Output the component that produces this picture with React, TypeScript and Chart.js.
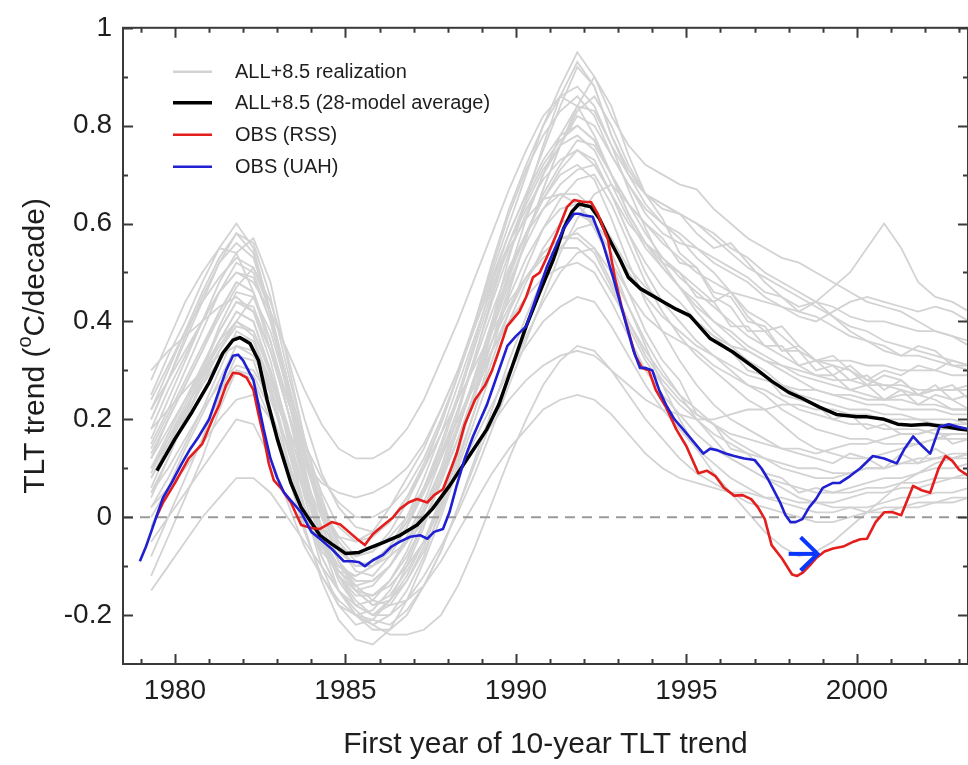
import React, { useEffect, useRef } from "react";
import { Chart, registerables } from "chart.js";

Chart.register(...registerables);

const FONT = "'Liberation Sans', Arial, Helvetica, sans-serif";

// Axis ranges and ticks
const X_MIN = 1978.475;
const X_MAX = 2003.26;
const Y_MIN = -0.3;
const Y_MAX = 1.0;
const X_MAJOR_TICKS = [1980, 1985, 1990, 1995, 2000];
const X_MINOR_TICKS = [1979, 1981, 1982, 1983, 1984, 1986, 1987, 1988, 1989, 1991, 1992, 1993, 1994, 1996, 1997, 1998, 1999, 2001, 2002, 2003];
const Y_MAJOR_TICKS = [-0.2, 0, 0.2, 0.4, 0.6, 0.8, 1];
const Y_MINOR_TICKS = [-0.1, 0.1, 0.3, 0.5, 0.7, 0.9];

const X_TITLE = "First year of 10-year TLT trend";
const Y_TITLE_PARTS = ["TLT trend (", "o", "C/decade)"]; // middle part is a superscript
const LEGEND_LABELS = ["ALL+8.5 realization", "ALL+8.5 (28-model average)", "OBS (RSS)", "OBS (UAH)"];

// Sample years for the model realizations
const GRAY_YEARS = [
  1979.3, 1979.8, 1980.3, 1980.8, 1981.3, 1981.8, 1982.3, 1982.8, 1983.3, 1983.8,
  1984.3, 1984.8, 1985.3, 1985.8, 1986.3, 1986.8, 1987.3, 1987.8, 1988.3, 1988.8,
  1989.3, 1989.8, 1990.3, 1990.8, 1991.3, 1991.8, 1992.3, 1992.8, 1993.3, 1993.8,
  1994.3, 1994.8, 1995.3, 1995.8, 1996.3, 1996.8, 1997.3, 1997.8, 1998.3, 1998.8,
  1999.3, 1999.8, 2000.3, 2000.8, 2001.3, 2001.8, 2002.3, 2002.8, 2003.3,
];

const G01 = [0.25,0.33,0.40,0.48,0.55,0.60,0.55,0.42,0.28,0.15, 0.05,-0.02,-0.05,-0.03,0.02,0.08,0.14,0.22,0.30,0.40, 0.50,0.60,0.70,0.80,0.88,0.95,0.90,0.82,0.76,0.72, 0.70,0.68,0.67,0.63,0.60,0.57,0.55,0.53,0.52,0.50, 0.48,0.46,0.44,0.43,0.42,0.40,0.38,0.37,0.35];
const G02 = [0.20,0.28,0.36,0.44,0.52,0.58,0.56,0.45,0.30,0.16, 0.04,-0.06,-0.11,-0.12,-0.08,-0.02,0.06,0.15,0.25,0.36, 0.48,0.58,0.66,0.75,0.84,0.92,0.88,0.78,0.70,0.64, 0.60,0.57,0.53,0.50,0.46,0.42,0.40,0.37,0.34,0.32, 0.31,0.30,0.28,0.27,0.26,0.25,0.24,0.22,0.22];
const G03 = [0.15,0.22,0.30,0.38,0.46,0.52,0.50,0.40,0.26,0.10, -0.03,-0.12,-0.18,-0.20,-0.17,-0.12,-0.05,0.04,0.14,0.25, 0.36,0.47,0.57,0.67,0.76,0.83,0.86,0.80,0.72,0.66, 0.63,0.62,0.58,0.55,0.56,0.52,0.48,0.45,0.43,0.44, 0.41,0.38,0.36,0.34,0.33,0.35,0.34,0.31,0.30];
const G04 = [0.12,0.20,0.27,0.34,0.42,0.48,0.46,0.36,0.22,0.08, -0.04,-0.11,-0.15,-0.14,-0.10,-0.04,0.03,0.12,0.22,0.33, 0.44,0.54,0.62,0.70,0.76,0.82,0.80,0.74,0.68,0.62, 0.58,0.56,0.55,0.52,0.50,0.48,0.45,0.43,0.41,0.40, 0.42,0.44,0.45,0.44,0.43,0.42,0.43,0.42,0.40];
const G05 = [0.10,0.17,0.24,0.31,0.38,0.44,0.43,0.34,0.22,0.09, -0.02,-0.09,-0.13,-0.13,-0.10,-0.05,0.02,0.10,0.19,0.29, 0.39,0.49,0.58,0.66,0.72,0.77,0.76,0.70,0.64,0.60, 0.56,0.53,0.50,0.48,0.46,0.45,0.44,0.43,0.42,0.44, 0.47,0.50,0.55,0.60,0.55,0.48,0.45,0.44,0.42];
const G06 = [0.05,0.12,0.20,0.28,0.36,0.42,0.40,0.30,0.16,0.02, -0.10,-0.18,-0.22,-0.21,-0.17,-0.10,-0.02,0.08,0.18,0.29, 0.40,0.50,0.58,0.65,0.71,0.75,0.73,0.66,0.58,0.52, 0.47,0.44,0.40,0.37,0.34,0.30,0.29,0.25,0.24,0.23, 0.20,0.21,0.18,0.19,0.17,0.17,0.18,0.15,0.16];
const G07 = [0.08,0.14,0.20,0.27,0.34,0.40,0.45,0.38,0.26,0.12, 0.00,-0.09,-0.15,-0.18,-0.16,-0.11,-0.05,0.03,0.12,0.22, 0.32,0.42,0.51,0.59,0.65,0.69,0.70,0.64,0.56,0.48, 0.42,0.37,0.33,0.30,0.27,0.24,0.22,0.19,0.16,0.14, 0.13,0.12,0.12,0.13,0.14,0.15,0.16,0.17,0.17];
const G08 = [0.02,0.08,0.15,0.22,0.30,0.38,0.36,0.26,0.12,-0.02, -0.13,-0.21,-0.25,-0.26,-0.23,-0.17,-0.09,0.00,0.10,0.20, 0.30,0.40,0.48,0.55,0.60,0.62,0.60,0.54,0.46,0.38, 0.32,0.28,0.21,0.19,0.14,0.13,0.09,0.08,0.05,0.06, 0.05,0.06,0.07,0.08,0.08,0.09,0.10,0.10,0.11];
const G09 = [-0.05,0.00,0.05,0.10,0.15,0.20,0.19,0.12,0.03,-0.06, -0.12,-0.17,-0.20,-0.21,-0.22,-0.19,-0.14,-0.07,0.02,0.11, 0.20,0.29,0.37,0.44,0.50,0.54,0.55,0.50,0.43,0.36, 0.30,0.25,0.20,0.16,0.12,0.10,0.08,0.06,0.04,0.03, 0.03,0.04,0.05,0.05,0.06,0.06,0.07,0.08,0.08];
const G10 = [-0.15,-0.10,-0.05,0.00,0.04,0.08,0.08,0.05,0.00,-0.05, -0.10,-0.15,-0.19,-0.22,-0.24,-0.24,-0.23,-0.20,-0.14,-0.06, 0.03,0.12,0.20,0.27,0.32,0.35,0.34,0.30,0.25,0.20, 0.16,0.12,0.09,0.07,0.05,0.03,0.02,0.01,0.00,-0.01, -0.01,0.00,0.01,0.02,0.02,0.03,0.03,0.04,0.04];
const G11 = [-0.12,-0.04,0.04,0.12,0.22,0.30,0.28,0.20,0.10,0.00, -0.06,-0.10,-0.12,-0.10,-0.06,-0.01,0.05,0.12,0.20,0.28, 0.36,0.43,0.49,0.54,0.57,0.58,0.55,0.48,0.40,0.33, 0.28,0.24,0.21,0.19,0.17,0.16,0.15,0.14,0.14,0.13, 0.14,0.15,0.15,0.16,0.17,0.17,0.18,0.18,0.18];
const G12 = [0.22,0.28,0.34,0.40,0.46,0.50,0.48,0.42,0.34,0.26, 0.19,0.14,0.12,0.12,0.14,0.18,0.24,0.32,0.40,0.49, 0.58,0.67,0.75,0.82,0.86,0.84,0.78,0.70,0.64,0.60, 0.57,0.52,0.51,0.46,0.45,0.40,0.39,0.34,0.34,0.30, 0.31,0.28,0.29,0.26,0.28,0.25,0.27,0.24,0.25];
const G13 = [0.18,0.22,0.26,0.30,0.33,0.35,0.33,0.26,0.18,0.11, 0.07,0.05,0.04,0.05,0.07,0.10,0.15,0.22,0.30,0.39, 0.48,0.56,0.63,0.69,0.73,0.75,0.72,0.66,0.60,0.56, 0.53,0.50,0.47,0.44,0.46,0.41,0.38,0.39,0.35,0.32, 0.33,0.30,0.27,0.29,0.28,0.25,0.26,0.27,0.24];
const G14 = [0.28,0.36,0.44,0.50,0.55,0.54,0.46,0.34,0.22,0.11, 0.02,-0.04,-0.08,-0.07,-0.03,0.03,0.10,0.19,0.29,0.40, 0.52,0.63,0.72,0.80,0.86,0.88,0.84,0.76,0.70,0.66, 0.64,0.62,0.60,0.57,0.54,0.51,0.49,0.47,0.45,0.43, 0.41,0.39,0.38,0.36,0.35,0.34,0.33,0.32,0.31];
const G15 = [0.06,0.14,0.22,0.29,0.36,0.42,0.40,0.30,0.18,0.08, 0.00,-0.04,-0.05,-0.04,-0.01,0.04,0.10,0.17,0.24,0.31, 0.38,0.44,0.49,0.53,0.55,0.55,0.52,0.46,0.40,0.34, 0.29,0.25,0.22,0.19,0.16,0.14,0.12,0.10,0.09,0.08, 0.08,0.09,0.10,0.10,0.11,0.12,0.12,0.13,0.13];
const G16 = [0.00,0.06,0.12,0.18,0.24,0.30,0.29,0.22,0.12,0.02, -0.06,-0.12,-0.15,-0.16,-0.14,-0.10,-0.05,0.02,0.09,0.16, 0.23,0.30,0.35,0.40,0.43,0.45,0.44,0.39,0.33,0.27, 0.22,0.18,0.14,0.11,0.08,0.06,0.04,0.03,0.02,0.01, 0.01,0.02,0.02,0.03,0.04,0.04,0.05,0.05,0.06];
const G17 = [0.14,0.21,0.28,0.35,0.42,0.48,0.46,0.36,0.24,0.13, 0.03,-0.05,-0.09,-0.10,-0.08,-0.05,-0.01,0.04,0.09,0.14, 0.19,0.24,0.28,0.31,0.33,0.34,0.33,0.30,0.27,0.24, 0.22,0.21,0.20,0.20,0.21,0.22,0.22,0.23,0.23,0.22, 0.22,0.21,0.21,0.20,0.20,0.20,0.19,0.19,0.19];
const G18 = [0.10,0.16,0.22,0.28,0.34,0.39,0.38,0.30,0.19,0.07, -0.04,-0.12,-0.17,-0.20,-0.20,-0.17,-0.12,-0.06,0.01,0.09, 0.18,0.27,0.36,0.45,0.54,0.61,0.66,0.68,0.64,0.58, 0.53,0.49,0.46,0.43,0.40,0.37,0.35,0.33,0.31,0.29, 0.29,0.26,0.27,0.24,0.26,0.23,0.25,0.24,0.22];
const G19 = [0.02,0.06,0.10,0.15,0.20,0.24,0.25,0.20,0.11,0.01, -0.08,-0.15,-0.20,-0.23,-0.23,-0.20,-0.14,-0.07,0.02,0.12, 0.22,0.32,0.41,0.49,0.55,0.59,0.60,0.56,0.50,0.45, 0.41,0.38,0.35,0.33,0.31,0.29,0.28,0.27,0.26,0.26, 0.25,0.25,0.24,0.24,0.25,0.25,0.26,0.26,0.27];
const G20 = [0.30,0.34,0.37,0.40,0.43,0.45,0.42,0.34,0.24,0.15, 0.08,0.03,0.00,0.00,0.02,0.06,0.12,0.20,0.29,0.39, 0.49,0.58,0.66,0.73,0.78,0.80,0.77,0.70,0.62,0.56, 0.52,0.50,0.45,0.44,0.39,0.39,0.35,0.35,0.31,0.32, 0.29,0.31,0.28,0.30,0.29,0.31,0.30,0.32,0.31];
const G21 = [-0.02,0.06,0.14,0.21,0.28,0.35,0.34,0.25,0.14,0.05, -0.02,-0.06,-0.08,-0.07,-0.04,0.00,0.06,0.13,0.20,0.27, 0.34,0.40,0.45,0.49,0.51,0.52,0.50,0.44,0.37,0.30, 0.25,0.21,0.17,0.14,0.12,0.10,0.08,0.07,0.06,0.05, 0.05,0.05,0.06,0.06,0.07,0.07,0.08,0.08,0.09];
const G22 = [0.16,0.24,0.32,0.40,0.48,0.54,0.57,0.48,0.32,0.16, 0.02,-0.09,-0.15,-0.18,-0.17,-0.13,-0.07,0.01,0.11,0.22, 0.34,0.46,0.57,0.67,0.76,0.84,0.90,0.84,0.74,0.66, 0.61,0.54,0.51,0.45,0.43,0.38,0.38,0.34,0.35,0.32, 0.32,0.32,0.31,0.31,0.30,0.30,0.30,0.29,0.29];
const G23 = [0.12,0.18,0.24,0.30,0.36,0.40,0.37,0.27,0.14,0.02, -0.07,-0.11,-0.12,-0.10,-0.06,0.00,0.08,0.17,0.27,0.37, 0.47,0.55,0.61,0.65,0.66,0.64,0.59,0.52,0.46,0.41, 0.38,0.36,0.34,0.31,0.29,0.27,0.26,0.24,0.22,0.21, 0.20,0.19,0.19,0.18,0.18,0.18,0.17,0.17,0.17];
const G24 = [-0.08,0.00,0.08,0.16,0.25,0.33,0.32,0.22,0.09,-0.03, -0.12,-0.18,-0.20,-0.19,-0.15,-0.09,-0.01,0.08,0.18,0.29, 0.40,0.50,0.58,0.65,0.70,0.72,0.69,0.61,0.52,0.44, 0.38,0.32,0.27,0.23,0.20,0.18,0.16,0.14,0.13,0.12, 0.11,0.13,0.12,0.10,0.13,0.11,0.14,0.12,0.13];
const G25 = [0.05,0.10,0.16,0.22,0.27,0.31,0.30,0.24,0.15,0.06, -0.02,-0.09,-0.14,-0.17,-0.18,-0.17,-0.14,-0.09,-0.03,0.03, 0.09,0.14,0.18,0.22,0.24,0.25,0.24,0.21,0.17,0.13, 0.10,0.08,0.07,0.06,0.05,0.05,0.04,0.04,0.03,0.03, 0.02,0.02,0.01,0.01,0.02,0.02,0.03,0.03,0.04];
const G26 = [0.08,0.15,0.22,0.29,0.35,0.40,0.38,0.29,0.17,0.05, -0.05,-0.12,-0.16,-0.16,-0.13,-0.08,-0.01,0.07,0.16,0.26, 0.36,0.45,0.53,0.59,0.63,0.64,0.60,0.52,0.43,0.35, 0.27,0.20,0.14,0.09,0.05,0.01,-0.03,-0.06,-0.08,-0.07, -0.05,-0.02,0.01,0.04,0.07,0.09,0.11,0.12,0.13];
const G27 = [0.18,0.26,0.33,0.40,0.46,0.50,0.49,0.40,0.27,0.13, 0.01,-0.07,-0.10,-0.09,-0.06,-0.01,0.06,0.14,0.24,0.35, 0.46,0.56,0.64,0.71,0.76,0.78,0.75,0.68,0.61,0.55, 0.51,0.47,0.44,0.40,0.38,0.35,0.33,0.31,0.29,0.28, 0.27,0.26,0.25,0.24,0.24,0.23,0.23,0.22,0.22];
const G28 = [0.20,0.28,0.37,0.45,0.52,0.56,0.53,0.42,0.26,0.10, -0.04,-0.13,-0.18,-0.20,-0.18,-0.13,-0.06,0.03,0.14,0.26, 0.38,0.50,0.61,0.70,0.78,0.84,0.83,0.76,0.67,0.59, 0.52,0.47,0.42,0.38,0.35,0.32,0.30,0.27,0.25,0.24, 0.23,0.22,0.22,0.21,0.21,0.20,0.20,0.20,0.19];
const G29 = [0.22,0.30,0.38,0.46,0.53,0.58,0.54,0.41,0.25,0.09, -0.05,-0.15,-0.20,-0.22,-0.20,-0.15,-0.08,0.02,0.13,0.26, 0.40,0.53,0.65,0.76,0.86,0.93,0.88,0.78,0.71,0.66, 0.64,0.62,0.60,0.58,0.55,0.53,0.50,0.48,0.46,0.44, 0.43,0.41,0.40,0.40,0.39,0.38,0.38,0.37,0.36];
const G30 = [0.24,0.31,0.38,0.44,0.49,0.53,0.51,0.44,0.33,0.20, 0.09,0.02,-0.02,-0.03,-0.01,0.04,0.11,0.19,0.29,0.40, 0.51,0.62,0.71,0.78,0.83,0.86,0.82,0.74,0.68,0.63, 0.60,0.58,0.55,0.53,0.51,0.49,0.46,0.45,0.42,0.41, 0.39,0.37,0.36,0.35,0.33,0.33,0.32,0.31,0.31];
const G31 = [0.04,0.12,0.21,0.30,0.39,0.46,0.45,0.36,0.22,0.07, -0.05,-0.11,-0.14,-0.13,-0.10,-0.05,0.01,0.09,0.18,0.28, 0.38,0.48,0.56,0.63,0.68,0.71,0.72,0.66,0.58,0.50, 0.44,0.40,0.36,0.33,0.30,0.27,0.25,0.22,0.20,0.18, 0.17,0.16,0.16,0.15,0.15,0.15,0.16,0.16,0.16];
const G32 = [0.09,0.16,0.23,0.30,0.38,0.44,0.42,0.32,0.18,0.04, -0.08,-0.15,-0.18,-0.17,-0.13,-0.07,0.01,0.10,0.21,0.33, 0.45,0.56,0.65,0.72,0.77,0.80,0.77,0.70,0.62,0.56, 0.51,0.47,0.43,0.40,0.37,0.34,0.32,0.30,0.28,0.26, 0.25,0.24,0.23,0.23,0.22,0.22,0.22,0.21,0.21];
const G33 = [0.13,0.20,0.27,0.34,0.41,0.47,0.51,0.42,0.28,0.14, 0.02,-0.06,-0.10,-0.10,-0.07,-0.02,0.05,0.13,0.22,0.32, 0.42,0.51,0.58,0.63,0.66,0.66,0.63,0.57,0.51,0.47, 0.44,0.42,0.40,0.37,0.35,0.34,0.32,0.31,0.30,0.29, 0.28,0.28,0.27,0.27,0.27,0.26,0.26,0.26,0.26];
const G34 = [0.10,0.15,0.21,0.27,0.32,0.37,0.36,0.28,0.17,0.06, -0.04,-0.10,-0.13,-0.13,-0.10,-0.05,0.01,0.08,0.16,0.25, 0.34,0.42,0.49,0.54,0.57,0.57,0.54,0.47,0.39,0.32, 0.27,0.23,0.20,0.17,0.15,0.13,0.12,0.11,0.10,0.10, 0.09,0.09,0.10,0.10,0.11,0.11,0.12,0.12,0.12];

const GRAY_REALIZATIONS = [G01, G02, G03, G04, G05, G06, G07, G08, G09, G10, G11, G12, G13, G14, G15, G16, G17, G18, G19, G20, G21, G22, G23, G24, G25, G26, G27, G28, G29, G30, G31, G32, G33, G34];

// 28-model average
const AVG_YEARS = [1979.47, 1980.0, 1980.5, 1981.0, 1981.4, 1981.7, 1981.9, 1982.2, 1982.45, 1982.7, 1983.0, 1983.4, 1983.7, 1984.25, 1984.6, 1985.0, 1985.4, 1985.6, 1986.1, 1986.6, 1987.1, 1987.55, 1988.05, 1988.55, 1989.15, 1989.5, 1989.9, 1990.3, 1990.7, 1991.1, 1991.4, 1991.65, 1991.85, 1992.2, 1992.45, 1992.7, 1993.05, 1993.3, 1993.65, 1994.2, 1994.7, 1995.1, 1995.7, 1996.35, 1997.0, 1997.5, 1998.0, 1998.33, 1998.9, 1999.4, 2000.0, 2000.3, 2000.8, 2001.2, 2001.6, 2002.05, 2002.6, 2003.0, 2003.26];
const AVG_VALUES = [0.095, 0.16, 0.215, 0.275, 0.335, 0.362, 0.367, 0.355, 0.32, 0.24, 0.16, 0.07, 0.02, -0.037, -0.055, -0.074, -0.072, -0.066, -0.052, -0.037, -0.016, 0.017, 0.064, 0.117, 0.18, 0.23, 0.31, 0.39, 0.46, 0.527, 0.59, 0.625, 0.64, 0.634, 0.61, 0.573, 0.527, 0.49, 0.467, 0.445, 0.425, 0.412, 0.365, 0.338, 0.305, 0.278, 0.255, 0.245, 0.225, 0.21, 0.205, 0.205, 0.2, 0.19, 0.188, 0.19, 0.185, 0.18, 0.178];

// RSS observations
const RSS_YEARS = [1979.45, 1979.65, 1980.0, 1980.4, 1980.8, 1981.1, 1981.3, 1981.5, 1981.7, 1981.9, 1982.1, 1982.3, 1982.45, 1982.6, 1982.75, 1982.9, 1983.1, 1983.4, 1983.7, 1984.0, 1984.25, 1984.6, 1984.85, 1985.1, 1985.35, 1985.57, 1985.8, 1986.1, 1986.4, 1986.6, 1986.85, 1987.1, 1987.4, 1987.6, 1987.86, 1988.1, 1988.26, 1988.5, 1988.8, 1989.1, 1989.3, 1989.5, 1989.74, 1990.1, 1990.3, 1990.5, 1990.7, 1990.9, 1991.2, 1991.5, 1991.7, 1992.0, 1992.2, 1992.4, 1992.7, 1992.9, 1993.1, 1993.3, 1993.5, 1993.7, 1993.9, 1994.1, 1994.4, 1994.7, 1995.0, 1995.35, 1995.6, 1995.85, 1996.1, 1996.4, 1996.65, 1996.9, 1997.1, 1997.3, 1997.5, 1997.8, 1998.1, 1998.25, 1998.4, 1998.6, 1998.8, 1999.05, 1999.3, 1999.6, 1999.9, 2000.1, 2000.3, 2000.55, 2000.8, 2001.05, 2001.3, 2001.65, 2001.9, 2002.15, 2002.4, 2002.6, 2002.8, 2003.0, 2003.26];
const RSS_VALUES = [0.0, 0.03, 0.07, 0.12, 0.15, 0.2, 0.23, 0.27, 0.295, 0.293, 0.285, 0.26, 0.21, 0.165, 0.11, 0.075, 0.06, 0.03, -0.016, -0.022, -0.024, -0.01, -0.015, -0.03, -0.045, -0.057, -0.035, -0.017, 0.0, 0.017, 0.03, 0.037, 0.03, 0.045, 0.057, 0.1, 0.13, 0.19, 0.24, 0.27, 0.3, 0.34, 0.39, 0.42, 0.45, 0.49, 0.5, 0.53, 0.58, 0.634, 0.648, 0.644, 0.644, 0.62, 0.567, 0.49, 0.43, 0.38, 0.33, 0.305, 0.3, 0.26, 0.225, 0.18, 0.145, 0.09, 0.095, 0.084, 0.06, 0.044, 0.045, 0.037, 0.02, -0.004, -0.057, -0.084, -0.117, -0.12, -0.114, -0.1, -0.084, -0.07, -0.064, -0.06, -0.05, -0.045, -0.044, -0.01, 0.01, 0.01, 0.004, 0.064, 0.055, 0.05, 0.1, 0.125, 0.115, 0.097, 0.085];

// UAH observations
const UAH_YEARS = [1978.97, 1979.15, 1979.3, 1979.5, 1979.65, 1979.9, 1980.2, 1980.45, 1980.7, 1981.0, 1981.3, 1981.5, 1981.7, 1981.85, 1982.0, 1982.3, 1982.45, 1982.6, 1982.8, 1983.0, 1983.2, 1983.45, 1983.7, 1984.0, 1984.25, 1984.6, 1984.95, 1985.2, 1985.4, 1985.57, 1985.8, 1986.1, 1986.35, 1986.6, 1986.9, 1987.2, 1987.4, 1987.6, 1987.86, 1988.05, 1988.26, 1988.5, 1988.74, 1989.15, 1989.45, 1989.75, 1990.0, 1990.3, 1990.6, 1990.9, 1991.15, 1991.4, 1991.7, 1991.85, 1992.0, 1992.25, 1992.55, 1992.85, 1993.05, 1993.25, 1993.45, 1993.64, 1993.8, 1994.0, 1994.2, 1994.4, 1994.65, 1994.9, 1995.2, 1995.5, 1995.7, 1995.9, 1996.15, 1996.4, 1996.7, 1997.0, 1997.2, 1997.4, 1997.6, 1997.75, 1997.9, 1998.05, 1998.2, 1998.4, 1998.6, 1998.8, 1999.0, 1999.3, 1999.5, 1999.8, 2000.1, 2000.47, 2000.8, 2001.17, 2001.4, 2001.65, 2001.85, 2002.15, 2002.43, 2002.7, 2002.96, 2003.26];
const UAH_VALUES = [-0.09, -0.06, -0.03, 0.01, 0.04, 0.07, 0.11, 0.14, 0.165, 0.2, 0.26, 0.3, 0.33, 0.332, 0.32, 0.28, 0.23, 0.18, 0.12, 0.08, 0.05, 0.03, 0.01, -0.03, -0.044, -0.065, -0.09, -0.09, -0.092, -0.1, -0.088, -0.077, -0.06, -0.05, -0.04, -0.037, -0.044, -0.03, -0.024, 0.01, 0.064, 0.12, 0.165, 0.23, 0.29, 0.35, 0.37, 0.39, 0.45, 0.51, 0.55, 0.59, 0.62, 0.62, 0.617, 0.614, 0.56, 0.49, 0.44, 0.39, 0.34, 0.305, 0.305, 0.3, 0.26, 0.23, 0.2, 0.18, 0.155, 0.13, 0.14, 0.137, 0.13, 0.125, 0.12, 0.117, 0.1, 0.077, 0.05, 0.03, 0.005, -0.01, -0.01, -0.004, 0.02, 0.037, 0.06, 0.07, 0.07, 0.084, 0.1, 0.125, 0.12, 0.11, 0.14, 0.165, 0.15, 0.13, 0.185, 0.19, 0.185, 0.18];

// Arrow annotation (data coordinates)
const ARROW_FROM_YEAR = 1998.0;
const ARROW_TO_YEAR = 1998.85;
const ARROW_VALUE = -0.075;
const ARROW_HEAD_BACK_YEAR = 1998.35;
const ARROW_HEAD_HALF = 0.034;

const COLORS = {
  gray: "#d3d3d3",
  avg: "#000000",
  rss: "#e41d1d",
  uah: "#2020d2",
  arrow: "#0a37ff",
  zero: "#9a9a9a",
  frame: "#3a3a3a",
  text: "#1e1e1e",
};

const toPoints = (xs: number[], ys: number[]) => xs.map((x, i) => ({ x, y: ys[i] }));

const overlayPlugin = {
  id: "overlay",
  afterDatasetsDraw(chart: any) {
    const { ctx, scales } = chart;
    const xs = scales.x;
    const ys = scales.y;
    const x0 = xs.getPixelForValue(ARROW_FROM_YEAR);
    const x1 = xs.getPixelForValue(ARROW_TO_YEAR);
    const xb = xs.getPixelForValue(ARROW_HEAD_BACK_YEAR);
    const yc = ys.getPixelForValue(ARROW_VALUE);
    const yt = ys.getPixelForValue(ARROW_VALUE + ARROW_HEAD_HALF);
    const yb = ys.getPixelForValue(ARROW_VALUE - ARROW_HEAD_HALF);
    ctx.save();
    ctx.strokeStyle = COLORS.arrow;
    ctx.lineWidth = 4;
    ctx.lineCap = "butt";
    ctx.lineJoin = "miter";
    ctx.beginPath();
    ctx.moveTo(x0, yc);
    ctx.lineTo(x1 - 2, yc);
    ctx.stroke();
    ctx.beginPath();
    ctx.moveTo(xb, yt);
    ctx.lineTo(x1, yc);
    ctx.lineTo(xb, yb);
    ctx.stroke();
    ctx.restore();
  },
  afterDraw(chart: any) {
    const { ctx, chartArea, scales } = chart;
    const { left, right, top, bottom } = chartArea;
    const xs = scales.x;
    const ys = scales.y;
    ctx.save();
    ctx.strokeStyle = COLORS.frame;
    ctx.lineWidth = 2;
    ctx.strokeRect(left, top, right - left, bottom - top);
    const major = 10;
    const minor = 5;
    ctx.beginPath();
    const xTick = (v: number, len: number) => {
      const p = Math.round(xs.getPixelForValue(v)) + 0.5;
      ctx.moveTo(p, bottom);
      ctx.lineTo(p, bottom - len);
      ctx.moveTo(p, top);
      ctx.lineTo(p, top + len);
    };
    const yTick = (v: number, len: number) => {
      const p = Math.round(ys.getPixelForValue(v)) + 0.5;
      ctx.moveTo(left, p);
      ctx.lineTo(left + len, p);
      ctx.moveTo(right, p);
      ctx.lineTo(right - len, p);
    };
    X_MAJOR_TICKS.forEach((v) => xTick(v, major));
    X_MINOR_TICKS.forEach((v) => xTick(v, minor));
    Y_MAJOR_TICKS.forEach((v) => yTick(v, major));
    Y_MINOR_TICKS.forEach((v) => yTick(v, minor));
    ctx.stroke();

    // y-axis title with superscript "o"
    const mainFont = `30px ${FONT}`;
    const supFont = `20px ${FONT}`;
    ctx.fillStyle = COLORS.text;
    ctx.font = mainFont;
    const w0 = ctx.measureText(Y_TITLE_PARTS[0]).width;
    const w2 = ctx.measureText(Y_TITLE_PARTS[2]).width;
    ctx.font = supFont;
    const w1 = ctx.measureText(Y_TITLE_PARTS[1]).width;
    const total = w0 + w1 + w2;
    const cy = (top + bottom) / 2;
    ctx.translate(36, cy);
    ctx.rotate(-Math.PI / 2);
    ctx.textBaseline = "middle";
    ctx.textAlign = "left";
    let px = -total / 2;
    ctx.font = mainFont;
    ctx.fillText(Y_TITLE_PARTS[0], px, 0);
    px += w0;
    ctx.font = supFont;
    ctx.fillText(Y_TITLE_PARTS[1], px, -11);
    px += w1;
    ctx.font = mainFont;
    ctx.fillText(Y_TITLE_PARTS[2], px, 0);
    ctx.setTransform(1, 0, 0, 1, 0, 0);

    // legend
    const rows = [
      { color: COLORS.gray, width: 2.5 },
      { color: COLORS.avg, width: 3.5 },
      { color: COLORS.rss, width: 2.5 },
      { color: COLORS.uah, width: 2.5 },
    ];
    const rowY = [44, 75, 107, 139];
    ctx.font = `20px ${FONT}`;
    ctx.textBaseline = "middle";
    ctx.textAlign = "left";
    rows.forEach((r, i) => {
      const y = top + rowY[i];
      ctx.strokeStyle = r.color;
      ctx.lineWidth = r.width;
      ctx.beginPath();
      ctx.moveTo(left + 50, y);
      ctx.lineTo(left + 89, y);
      ctx.stroke();
      ctx.fillStyle = COLORS.text;
      ctx.fillText(LEGEND_LABELS[i], left + 112, y + 1);
    });
    ctx.restore();
  },
};

export default function App() {
  const canvasRef = useRef<HTMLCanvasElement | null>(null);

  useEffect(() => {
    const canvas = canvasRef.current;
    if (!canvas) return;

    const grayDatasets = GRAY_REALIZATIONS.map((vals) => ({
      label: LEGEND_LABELS[0],
      data: toPoints(GRAY_YEARS, vals),
      borderColor: COLORS.gray,
      borderWidth: 1.8,
      pointRadius: 0,
      tension: 0,
      fill: false,
      order: 5,
    }));

    const chart = new Chart(canvas, {
      type: "line",
      data: {
        datasets: [
          ...grayDatasets,
          {
            label: "zero",
            data: [{ x: X_MIN, y: 0 }, { x: X_MAX, y: 0 }],
            borderColor: COLORS.zero,
            borderWidth: 2,
            borderDash: [10, 7],
            pointRadius: 0,
            fill: false,
            order: 4,
          },
          {
            label: LEGEND_LABELS[1],
            data: toPoints(AVG_YEARS, AVG_VALUES),
            borderColor: COLORS.avg,
            borderWidth: 3.5,
            pointRadius: 0,
            tension: 0,
            fill: false,
            borderJoinStyle: "round",
            order: 3,
          },
          {
            label: LEGEND_LABELS[2],
            data: toPoints(RSS_YEARS, RSS_VALUES),
            borderColor: COLORS.rss,
            borderWidth: 2.6,
            pointRadius: 0,
            tension: 0,
            fill: false,
            borderJoinStyle: "round",
            order: 2,
          },
          {
            label: LEGEND_LABELS[3],
            data: toPoints(UAH_YEARS, UAH_VALUES),
            borderColor: COLORS.uah,
            borderWidth: 2.6,
            pointRadius: 0,
            tension: 0,
            fill: false,
            borderJoinStyle: "round",
            order: 1,
          },
        ] as any,
      },
      options: {
        animation: false,
        responsive: false,
        devicePixelRatio: 1,
        events: [],
        layout: { padding: { top: 19, right: 0, left: 0, bottom: 0 } },
        plugins: {
          legend: { display: false },
          tooltip: { enabled: false },
        },
        scales: {
          x: {
            type: "linear",
            min: X_MIN,
            max: X_MAX,
            grid: { display: false, drawTicks: false },
            border: { display: false },
            afterBuildTicks: (s: any) => {
              s.ticks = X_MAJOR_TICKS.map((v) => ({ value: v }));
            },
            afterFit: (s: any) => {
              s.height = 101;
            },
            ticks: {
              padding: 10,
              autoSkip: false,
              maxRotation: 0,
              color: COLORS.text,
              font: { family: FONT, size: 28 },
              callback: (v: any) => String(v),
            },
            title: {
              display: true,
              text: X_TITLE,
              color: COLORS.text,
              font: { family: FONT, size: 30 },
              padding: { top: 0, bottom: 2 },
            },
          },
          y: {
            type: "linear",
            min: Y_MIN,
            max: Y_MAX,
            grid: { display: false, drawTicks: false },
            border: { display: false },
            afterBuildTicks: (s: any) => {
              s.ticks = Y_MAJOR_TICKS.map((v) => ({ value: v }));
            },
            afterFit: (s: any) => {
              s.width = 123;
            },
            ticks: {
              padding: 11,
              autoSkip: false,
              color: COLORS.text,
              font: { family: FONT, size: 28 },
              callback: (v: any) => String(v),
            },
            title: { display: false },
          },
        },
      },
      plugins: [overlayPlugin],
    } as any);

    return () => chart.destroy();
  }, []);

  return (
    <div style={{ position: "absolute", left: 0, top: 0, width: 968, height: 765, background: "#ffffff" }}>
      <canvas ref={canvasRef} width={968} height={765} style={{ display: "block" }} />
    </div>
  );
}
